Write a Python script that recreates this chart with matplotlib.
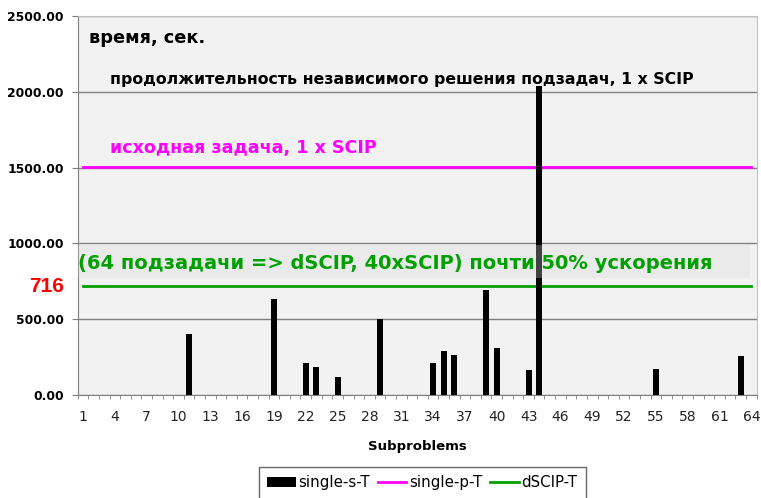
import numpy as np
import matplotlib.pyplot as plt
from matplotlib.patches import Rectangle
from matplotlib.ticker import FixedLocator, FormatStrFormatter

plt.rcParams["font.family"] = ["DejaVu Sans"]

# data
subproblems = np.arange(1, 65)
solved = {11: 403, 19: 630, 22: 214, 23: 188, 25: 122, 29: 504, 34: 214, 35: 292,
          36: 263, 39: 690, 40: 310, 43: 164, 44: 2035, 55: 172, 63: 257}
single_s_T = [solved.get(i, 0) for i in subproblems]
single_p_T = [1505] * 64
dSCIP_T = [716] * 64
y_ticks = [0, 500, 1000, 1500, 2000, 2500]
x_labels = list(range(1, 65, 3))

fig = plt.figure(figsize=(7.61, 4.98), dpi=100)
ax = fig.add_axes([0.1021, 0.2068, 0.8922, 0.7611])
ax.set_facecolor("#F2F2F2")

ax.plot(subproblems, single_p_T, color="#FF00FF", lw=2, zorder=2, label="single-p-T")
ax.plot(subproblems, dSCIP_T, color="#00A000", lw=2, zorder=2, label="dSCIP-T")
ax.bar(subproblems, single_s_T, width=0.56, color="black", zorder=3, label="single-s-T")

ax.set_xlim(0.5, 64.5)
ax.set_ylim(0, 2500)
ax.set_yticks(y_ticks)
ax.yaxis.set_major_formatter(FormatStrFormatter("%.2f"))
ax.grid(axis="y", color="#808080", lw=1)
ax.set_axisbelow(True)

ax.set_xticks(x_labels)
ax.set_xticklabels([str(v) for v in x_labels], fontsize=10, color="#222222")
ax.xaxis.set_minor_locator(FixedLocator(np.arange(0.5, 65, 1)))
ax.tick_params(axis="x", which="major", length=0, pad=11)
ax.tick_params(axis="x", which="minor", length=3, color="#808080")
ax.tick_params(axis="y", length=4.3, color="#808080", pad=5.7)
for lab in ax.get_yticklabels():
    lab.set_fontweight("bold")
    lab.set_fontsize(8.8)

for side in ["top", "right"]:
    ax.spines[side].set_color("#C0C0C0")
for side in ["left", "bottom"]:
    ax.spines[side].set_color("#808080")

ax.set_xlabel("Subproblems", fontsize=9.5, fontweight="bold", labelpad=11)

# annotations
ax.text(0.016, 0.965, "время, сек.", transform=ax.transAxes, fontsize=12.8,
        fontweight="bold", va="top", zorder=5)
ax.text(0.047, 0.833, "продолжительность независимого решения подзадач, 1 x SCIP",
        transform=ax.transAxes, fontsize=11.3, fontweight="bold", va="center", zorder=5)
ax.text(0.047, 0.652, "исходная задача, 1 x SCIP", transform=ax.transAxes,
        fontsize=12.6, fontweight="bold", color="#FF00FF", va="center", zorder=5)
ax.add_patch(Rectangle((0, 770), 0.99, 218, transform=ax.get_yaxis_transform(),
                       facecolor="#D8D8D8", alpha=0.3, edgecolor="none", zorder=4))
ax.text(0.0, 0.348, "(64 подзадачи => dSCIP, 40xSCIP) почти 50% ускорения",
        transform=ax.transAxes, fontsize=14.05, fontweight="bold", color="#00A000",
        va="center", zorder=5)
ax.text(-0.046, dSCIP_T[0] + 2, "716", transform=ax.get_yaxis_transform(),
        fontsize=15, fontweight="bold", color="red", ha="center", va="center",
        family="Liberation Sans")

h, l = ax.get_legend_handles_labels()
order = [2, 0, 1]
leg = fig.legend([h[i] for i in order], [l[i] for i in order], loc="upper center",
                 bbox_to_anchor=(0.555, 0.0622), ncol=3, fontsize=10.8, frameon=True,
                 fancybox=False, edgecolor="#404040", handlelength=1.9,
                 handletextpad=0.2, columnspacing=0.5, borderpad=0.55,
                 borderaxespad=0)
leg.get_frame().set_linewidth(1)

fig.savefig("out.png", dpi=100)
